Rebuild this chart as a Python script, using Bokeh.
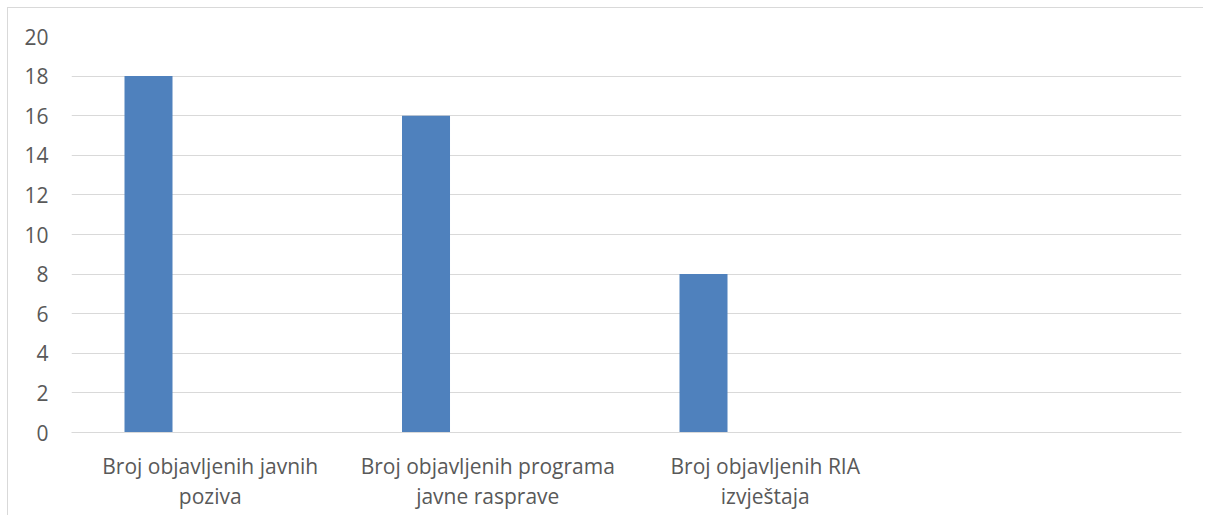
from bokeh.plotting import figure
from bokeh.models import FactorRange, ColumnDataSource, FixedTicker
from bokeh.transform import dodge
from bokeh.embed import file_html
from bokeh.resources import INLINE

categories = ["Broj objavljenih javnih\npoziva",
              "Broj objavljenih programa\njavne rasprave",
              "Broj objavljenih RIA\nizvještaja",
              " "]
values = [18, 16, 8]
y_ticks = [0, 2, 4, 6, 8, 10, 12, 14, 16, 18, 20]

src = ColumnDataSource(dict(cat=categories[:3], val=values))

p = figure(x_range=FactorRange(*categories, range_padding=0), y_range=(0, 20),
           width=1196, height=508, output_backend="svg", toolbar_location=None,
           min_border_left=63, min_border_top=28, min_border_right=23, min_border_bottom=84)
p.styles = {"border-left": "1px solid #d9d9d9", "border-top": "1px solid #d9d9d9",
            "margin-left": "7px", "margin-top": "7px"}

p.vbar(x=dodge("cat", -0.2225, range=p.x_range), top="val", width=0.173, bottom=0,
       source=src, fill_color="#4f81bd", line_color=None)

p.outline_line_color = None
p.xgrid.grid_line_color = None
p.ygrid.grid_line_color = "#d9d9d9"
p.ygrid.grid_line_width = 1
p.yaxis.ticker = FixedTicker(ticks=y_ticks)
p.yaxis.axis_line_color = None
p.yaxis.major_tick_line_color = None
p.yaxis.minor_tick_line_color = None
p.yaxis.major_label_standoff = 17
p.xaxis.axis_line_color = "#d9d9d9"
p.xaxis.major_tick_line_color = None
p.xaxis.major_label_standoff = 13
for ax in (p.xaxis, p.yaxis):
    ax.major_label_text_font = "Open Sans"
    ax.major_label_text_font_size = "21px"
    ax.major_label_text_color = "#595959"
p.xaxis.major_label_text_line_height = 1.1

open("out.html", "w").write(file_html(p, INLINE))
